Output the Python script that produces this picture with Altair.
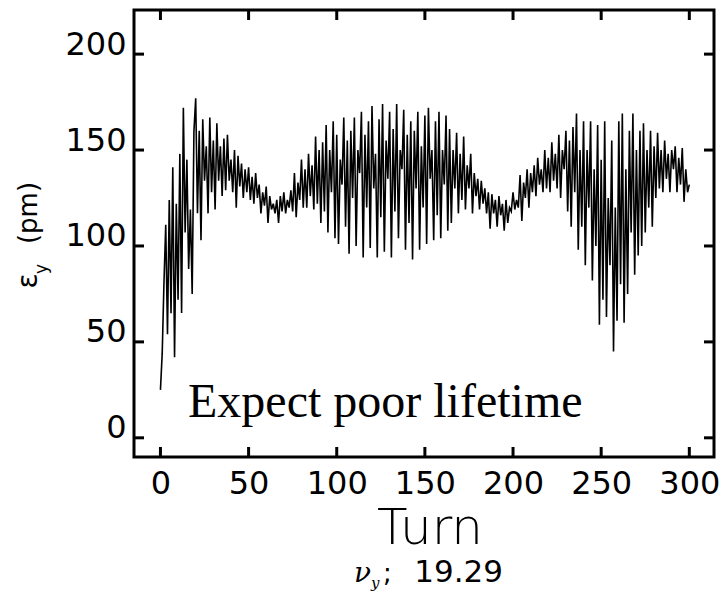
import altair as alt
import pandas as pd

# Turn number and vertical emittance (pm)
turns = list(range(301))
eps_y = [
    25, 44, 81, 111, 54, 124, 65, 141, 42, 122,
    72, 148, 65, 172, 107, 145, 88, 119, 75, 160,
    177, 117, 160, 103, 166, 134, 152, 117, 167, 128,
    155, 119, 164, 134, 152, 126, 156, 129, 158, 134,
    145, 128, 150, 120, 147, 131, 143, 125, 140, 128,
    141, 124, 136, 122, 138, 125, 132, 117, 128, 121,
    131, 112, 126, 119, 122, 117, 124, 112, 126, 118,
    128, 117, 124, 120, 129, 118, 138, 115, 133, 124,
    145, 120, 140, 120, 148, 126, 142, 119, 157, 122,
    150, 112, 154, 118, 163, 107, 150, 128, 165, 104,
    158, 101, 145, 132, 167, 110, 155, 96, 160, 125,
    167, 100, 150, 138, 170, 94, 158, 120, 165, 99,
    173, 130, 148, 94, 166, 115, 174, 97, 155, 135,
    170, 94, 161, 118, 174, 104, 150, 140, 171, 98,
    158, 112, 165, 93, 160, 130, 170, 98, 152, 120,
    168, 101, 172, 135, 150, 103, 165, 116, 170, 104,
    150, 132, 168, 108, 161, 112, 150, 130, 159, 117,
    148, 124, 157, 119, 142, 130, 148, 117, 138, 126,
    135, 119, 134, 122, 130, 117, 128, 109, 127, 117,
    124, 110, 126, 116, 122, 108, 124, 112, 120, 118,
    128, 119, 124, 120, 137, 113, 133, 125, 140, 120,
    138, 128, 142, 126, 146, 132, 140, 128, 150, 130,
    146, 128, 154, 134, 148, 130, 158, 125, 150, 140,
    160, 118, 155, 110, 162, 128, 169, 98, 150, 110,
    165, 90, 150, 120, 165, 82, 140, 100, 163, 59,
    145, 72, 165, 63, 125, 90, 155, 45, 120, 61,
    165, 80, 169, 60, 140, 75, 160, 107, 169, 85,
    150, 95, 160, 100, 164, 107, 150, 120, 160, 110,
    152, 125, 159, 130, 150, 128, 155, 135, 148, 128,
    150, 140, 152, 128, 146, 132, 151, 123, 140, 128,
    132,
]

x_ticks = [0, 50, 100, 150, 200, 250, 300]
y_ticks = [0, 50, 100, 150, 200]

W, H = 580, 447
xs = alt.Scale(domain=[-15, 314], nice=False, zero=False)
ys = alt.Scale(domain=[-10, 223], nice=False, zero=False)

x_axis = alt.Axis(
    values=x_ticks, title=None, domain=False, ticks=False, tickSize=0, grid=False,
    labelFont="DejaVu Sans", labelFontSize=32, labelColor="black",
    labelBaseline="alphabetic", labelPadding=36)
y_axis = alt.Axis(
    values=y_ticks, title=None, domain=False, ticks=False, tickSize=0, grid=False,
    labelFont="DejaVu Sans", labelFontSize=32, labelColor="black",
    labelBaseline="alphabetic", labelPadding=8)

df = pd.DataFrame({"turn": turns, "eps": eps_y})
dx = pd.DataFrame({"turn": x_ticks})
dy = pd.DataFrame({"eps": y_ticks})
one = pd.DataFrame({"a": [0]})

line = alt.Chart(df).mark_line(color="black", strokeWidth=1.6).encode(
    x=alt.X("turn:Q", scale=xs, axis=x_axis),
    y=alt.Y("eps:Q", scale=ys, axis=y_axis),
)

tick_style = dict(color="black", strokeWidth=3)
xt_bottom = alt.Chart(dx).mark_rule(**tick_style).encode(
    x=alt.X("turn:Q", scale=xs, axis=x_axis), y=alt.value(H), y2=alt.value(H - 10))
xt_top = alt.Chart(dx).mark_rule(**tick_style).encode(
    x=alt.X("turn:Q", scale=xs, axis=x_axis), y=alt.value(0), y2=alt.value(10))
yt_left = alt.Chart(dy).mark_rule(**tick_style).encode(
    y=alt.Y("eps:Q", scale=ys, axis=y_axis), x=alt.value(0), x2=alt.value(10))
yt_right = alt.Chart(dy).mark_rule(**tick_style).encode(
    y=alt.Y("eps:Q", scale=ys, axis=y_axis), x=alt.value(W), x2=alt.value(W - 10))

def label(text, x, y, size, font="DejaVu Sans", align="center", angle=0,
          style="normal", weight="normal", baseline="alphabetic"):
    return alt.Chart(one).mark_text(
        text=text, font=font, fontSize=size, align=align, baseline=baseline,
        angle=angle, fontStyle=style, fontWeight=weight, color="black",
    ).encode(x=alt.value(x), y=alt.value(y))

annot = label("Expect poor lifetime", 54, 407, 48, font="Liberation Serif", align="left")
xtitle = label("Turn", 296, 534, 50, weight=200)
nu = label("ν", 220, 572, 28, font="DejaVu Serif", align="left", style="italic")
nu_sub = label("y", 237, 578, 15, font="DejaVu Serif", align="left", style="italic")
nu_sep = label(";", 249, 572, 26, align="left")
nu_val = label("19.29", 369, 572, 31, align="right")
yt_eps = label("ε", -97, 271, 28, angle=270)
yt_sub = label("y", -87, 259, 17, angle=270)
yt_pm = label("(pm)", -97, 203, 26, angle=270)

chart = alt.layer(
    line, xt_bottom, xt_top, yt_left, yt_right,
    annot, xtitle, nu, nu_sub, nu_sep, nu_val, yt_eps, yt_sub, yt_pm,
).properties(
    width=W, height=H,
    autosize=alt.AutoSizeParams(type="none"),
    padding={"left": 134, "top": 10, "right": 9, "bottom": 137},
    background="white",
).configure_view(stroke="black", strokeWidth=3)

chart.save("out.html", embed_options={"renderer": "svg", "actions": False})
